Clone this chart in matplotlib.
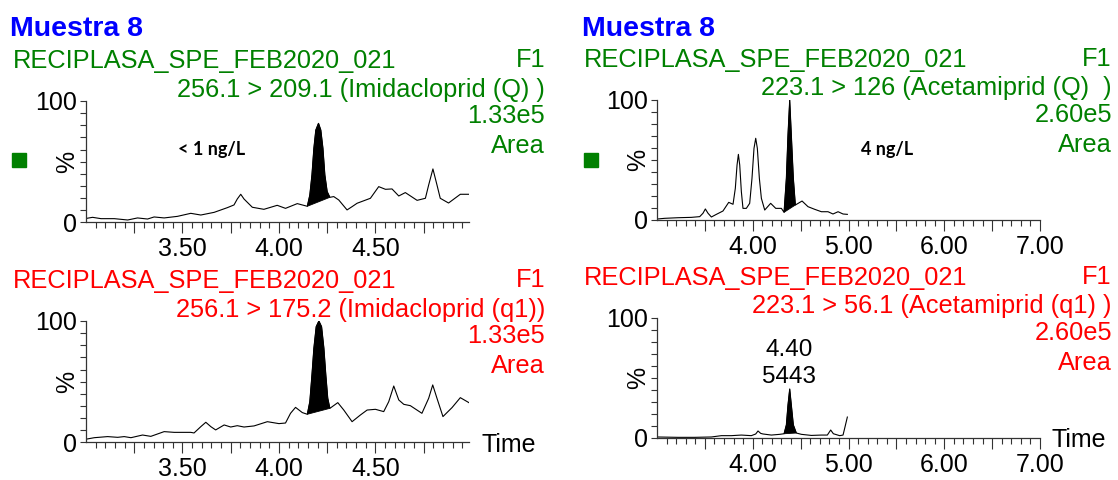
import matplotlib
matplotlib.use("Agg")
import matplotlib.pyplot as plt
from matplotlib.patches import Rectangle
import numpy as np

# --- Imidacloprid (Q), 256.1 > 209.1 ---
imi_q_time = [3.005, 3.034, 3.078, 3.147, 3.216, 3.267, 3.319, 3.353, 3.405, 3.474,
              3.543, 3.595, 3.664, 3.733, 3.767, 3.784, 3.802, 3.819, 3.836, 3.862,
              3.922, 3.991, 4.034, 4.095, 4.147, 4.160, 4.171, 4.181, 4.191, 4.205,
              4.217, 4.228, 4.238, 4.250, 4.264, 4.284, 4.310, 4.353, 4.379, 4.405,
              4.474, 4.517, 4.552, 4.586, 4.621, 4.655, 4.716, 4.759, 4.776, 4.798,
              4.819, 4.836, 4.879, 4.940, 4.991]
imi_q_pct = [3.3, 4.1, 3.0, 3.0, 1.9, 3.6, 2.7, 4.4, 3.6, 4.9,
             7.4, 6.0, 8.2, 12.1, 14.3, 19.2, 23.1, 19.2, 16.5, 12.4,
             10.7, 14.0, 11.5, 15.4, 13.2, 22.5, 39.0, 61.0, 76.0, 81.6,
             76.0, 61.0, 39.0, 25.3, 20.6, 21.2, 18.4, 10.2, 12.9, 15.7,
             19.8, 29.4, 27.2, 27.5, 21.7, 24.5, 18.1, 19.8, 30.8, 44.0,
             30.8, 19.8, 15.9, 23.1, 23.1]
imi_q_peak = (4.147, 4.264)

# --- Imidacloprid (q1), 256.1 > 175.2 ---
imi_q1_time = [3.005, 3.043, 3.112, 3.164, 3.198, 3.233, 3.293, 3.336, 3.405, 3.457,
               3.543, 3.560, 3.595, 3.621, 3.647, 3.672, 3.716, 3.750, 3.784, 3.819,
               3.871, 3.940, 4.000, 4.034, 4.060, 4.086, 4.121, 4.147, 4.160, 4.171,
               4.181, 4.193, 4.207, 4.221, 4.233, 4.243, 4.253, 4.264, 4.305, 4.336,
               4.379, 4.422, 4.457, 4.500, 4.543, 4.569, 4.595, 4.621, 4.647, 4.681,
               4.741, 4.776, 4.797, 4.819, 4.850, 4.897, 4.940, 4.991]
imi_q1_pct = [2.7, 3.8, 4.7, 4.1, 4.7, 3.8, 6.0, 4.9, 8.8, 8.2,
              8.2, 7.7, 12.9, 16.5, 12.9, 10.2, 14.3, 12.6, 13.7, 12.6,
              13.5, 17.0, 15.4, 15.9, 23.9, 28.8, 24.5, 23.1, 33.5, 55.5,
              77.5, 95.3, 100.0, 95.3, 77.5, 55.5, 36.3, 28.0, 32.7, 26.6,
              17.0, 22.5, 26.6, 27.2, 25.3, 33.5, 46.4, 34.9, 31.3, 30.2,
              23.9, 36.3, 47.3, 36.3, 21.2, 28.6, 36.8, 32.1]
imi_q1_peak = (4.147, 4.264)

# --- Acetamiprid (Q), 223.1 > 126 ---
ace_q_time = [3.000, 3.080, 3.219, 3.359, 3.446, 3.480, 3.505, 3.533, 3.568, 3.620,
              3.689, 3.749, 3.794, 3.818, 3.836, 3.850, 3.864, 3.881, 3.898, 3.933,
              3.968, 3.992, 4.013, 4.031, 4.048, 4.069, 4.090, 4.125, 4.187, 4.240,
              4.299, 4.327, 4.351, 4.368, 4.386, 4.403, 4.424, 4.445, 4.515, 4.577,
              4.647, 4.717, 4.786, 4.838, 4.891, 4.943, 4.988]
ace_q_pct = [0.8, 1.4, 1.9, 2.2, 2.8, 5.6, 9.2, 5.6, 2.5, 4.7,
             7.5, 14.7, 13.1, 26.4, 45.8, 54.7, 45.8, 23.6, 9.7, 9.7,
             13.9, 34.7, 59.7, 68.1, 59.7, 34.7, 18.1, 8.3, 13.9, 9.7,
             9.7, 6.4, 34.7, 70.8, 100.0, 70.8, 34.7, 12.5, 15.8, 11.1,
             8.9, 6.9, 6.9, 5.0, 6.9, 5.0, 4.7]
ace_q_peak = (4.327, 4.445)

# --- Acetamiprid (q1), 223.1 > 56.1 ---
ace_q1_time = [3.000, 3.219, 3.393, 3.568, 3.672, 3.776, 3.881, 3.985, 4.031, 4.055,
               4.083, 4.107, 4.194, 4.281, 4.327, 4.351, 4.368, 4.386, 4.403, 4.424,
               4.455, 4.508, 4.612, 4.717, 4.779, 4.814, 4.842, 4.908, 4.943, 4.960,
               4.988]
ace_q1_pct = [0.6, 0.3, 0.3, 0.6, 1.7, 1.7, 2.2, 1.7, 3.1, 5.6,
              3.6, 3.1, 2.2, 2.8, 3.3, 10.6, 27.2, 40.6, 27.2, 10.6,
              3.9, 2.8, 1.9, 2.2, 2.2, 6.4, 3.3, 1.7, 2.2, 7.8,
              17.2]
ace_q1_peak = (4.327, 4.455)

left_ticks = [3.25, 3.50, 3.75, 4.00, 4.25, 4.50, 4.75]
left_labels = ["", "3.50", "", "4.00", "", "4.50", ""]
right_ticks = [3.5, 4.0, 4.5, 5.0, 5.5, 6.0, 6.5, 7.0]
right_labels = ["", "4.00", "", "5.00", "", "6.00", "", "7.00"]

sample_title = "Muestra 8"
file_name = "RECIPLASA_SPE_FEB2020_021"

W, H = 1118, 480
GREEN, RED, BLUE = "#008000", "#ff0000", "#0000ff"
HFS = 18.3  # header text size
plt.rcParams["font.family"] = ["Liberation Sans", "DejaVu Sans"]

fig = plt.figure(figsize=(W / 100, H / 100), dpi=100)


def fx(x):
    return x / W


def fy(y):
    return 1 - y / H


def ftext(x, y, s, **kw):
    fig.text(fx(x), fy(y), s, **kw)


def panel(box, t, v, peak, xlim, majors, labels, minors):
    left, top, right, bottom = box
    ax = fig.add_axes([fx(left), fy(bottom), (right - left) / W, (bottom - top) / H])
    t = np.array(t)
    v = np.array(v)
    ax.plot(t, v, color="black", lw=0.8, solid_joinstyle="round")
    m = (t >= peak[0] - 1e-6) & (t <= peak[1] + 1e-6)
    ax.fill(t[m], v[m], color="black", lw=0.6)
    ax.set_xlim(*xlim)
    ax.set_ylim(0, 100)
    for s in ["top", "right"]:
        ax.spines[s].set_visible(False)
    for s in ["left", "bottom"]:
        ax.spines[s].set_linewidth(0.9)
        ax.spines[s].set_color("#333333")
    ax.set_xticks(majors)
    ax.set_xticklabels(labels)
    ax.set_xticks(minors, minor=True)
    ax.set_yticks([0, 100])
    ax.set_yticklabels(["0", "100"])
    ax.set_yticks(range(10, 100, 10), minor=True)
    ax.tick_params(axis="x", which="major", length=7.7, width=0.8, pad=3,
                   labelsize=18, color="#333333")
    ax.tick_params(axis="x", which="minor", length=4.1, width=0.8, color="#333333")
    ax.tick_params(axis="y", which="both", length=4.5, width=0.8, pad=2,
                   labelsize=18, color="#333333")
    ax.patch.set_alpha(0)
    fig.text(fx(left - 19), fy((top + bottom) / 2), "%", rotation=90,
             ha="center", va="center", fontsize=18)
    return ax


def header(x_left, x_right, top, color, transition, scale):
    ftext(x_left, top - 33, file_name, color=color, fontsize=HFS, va="baseline")
    ftext(x_right, top - 34, "F1", color=color, fontsize=HFS, va="baseline", ha="right")
    ftext(x_right, top - 4.5, transition, color=color, fontsize=HFS, va="baseline", ha="right")
    ftext(x_right, top + 22, scale, color=color, fontsize=HFS, va="baseline", ha="right")
    ftext(x_right, top + 52, "Area", color=color, fontsize=HFS, va="baseline", ha="right")


left_minors = [round(3.05 + 0.05 * i, 2) for i in range(39)]
right_minors = [round(3.1 + 0.1 * i, 1) for i in range(39)]

# top-left
panel((86, 101, 469, 222.3), imi_q_time, imi_q_pct, imi_q_peak, (3.0, 4.985),
      left_ticks, left_labels, left_minors)
ftext(10, 36, sample_title, color=BLUE, fontsize=20.5, fontweight="bold", va="baseline")
header(12.7, 545, 101, GREEN, "256.1 > 209.1 (Imidacloprid (Q) )", "1.33e5")
ftext(212, 149, "< 1 ng/L", fontsize=13, fontweight="bold", ha="center", va="center",
      family=["Lato", "DejaVu Sans"])
fig.patches.append(Rectangle((fx(12), fy(167)), 14 / W, 14 / H, color=GREEN,
                             transform=fig.transFigure))

# bottom-left
panel((86, 321, 469, 442.3), imi_q1_time, imi_q1_pct, imi_q1_peak, (3.0, 4.985),
      left_ticks, left_labels, left_minors)
header(12.7, 545, 321, RED, "256.1 > 175.2 (Imidacloprid (q1))", "1.33e5")
ftext(482, 451.5, "Time", fontsize=18, va="baseline")

# top-right
panel((657, 100, 1040, 220), ace_q_time, ace_q_pct, ace_q_peak, (3.0, 7.0),
      right_ticks, right_labels, right_minors)
ftext(582, 36, sample_title, color=BLUE, fontsize=20.5, fontweight="bold", va="baseline")
header(584, 1112, 100, GREEN, "223.1 > 126 (Acetamiprid (Q)  )", "2.60e5")
ftext(887, 149, "4 ng/L", fontsize=13, fontweight="bold", ha="center", va="center",
      family=["Lato", "DejaVu Sans"])
fig.patches.append(Rectangle((fx(584), fy(167)), 14 / W, 14 / H, color=GREEN,
                             transform=fig.transFigure))

# bottom-right
panel((657, 317.7, 1040, 437.7), ace_q1_time, ace_q1_pct, ace_q1_peak, (3.0, 7.0),
      right_ticks, right_labels, right_minors)
header(584, 1112, 317.7, RED, "223.1 > 56.1 (Acetamiprid (q1) )", "2.60e5")
ftext(1052, 447, "Time", fontsize=18, va="baseline")
ftext(789, 350, "4.40", fontsize=17.5, ha="center", va="center")
ftext(789, 377, "5443", fontsize=17.5, ha="center", va="center")

fig.savefig("out.png", dpi=100)
